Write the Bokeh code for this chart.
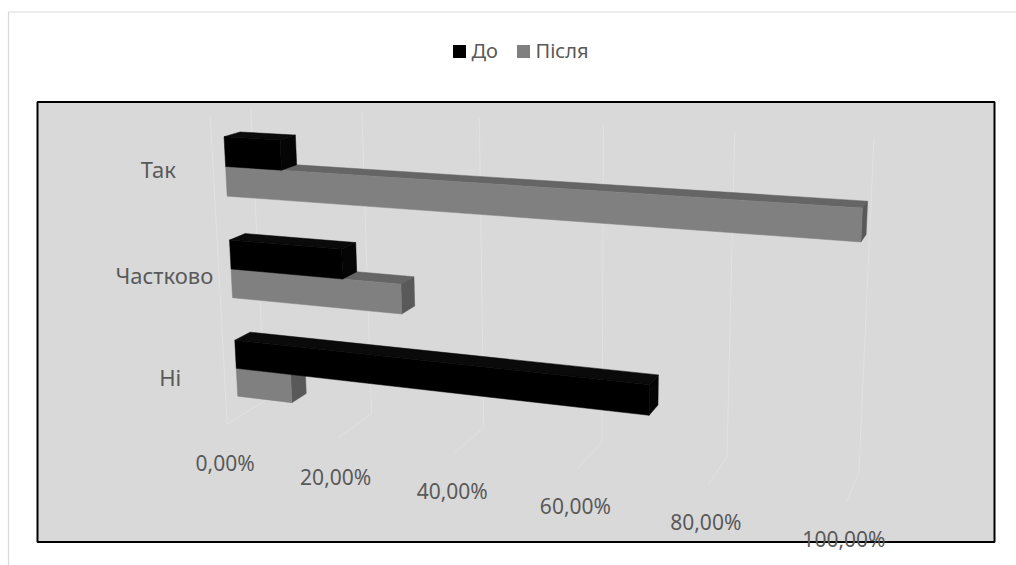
import numpy as np
from bokeh.plotting import figure
from bokeh.models import Range1d
from bokeh.embed import file_html
from bokeh.resources import INLINE
from bokeh.core.properties import value

# ---------------- data ----------------
categories = ["Так", "Частково", "Ні"]          # top to bottom
series_names = ["До", "Після"]
before = [0.10, 0.20, 0.70]
after = [1.00, 0.30, 0.10]
ticks = [0.0, 0.2, 0.4, 0.6, 0.8, 1.0]
tick_labels = ["0,00%", "20,00%", "40,00%", "60,00%", "80,00%", "100,00%"]

# ---------------- styling ----------------
W, H = 1016, 565
FONT = value("Noto Sans")
TXT = "#595959"
face_colors = {
    "До": {"front": "#000000", "top": "#0a0a0a", "end": "#050505"},
    "Після": {"front": "#808080", "top": "#656565", "end": "#595959"},
}
GRID = "#e1e1e1"

# ---------------- 3D projection (pinhole camera fitted to the chart frame) ----
# world: X = value (0..1), Y = category axis (0..3, bottom to top), Z = depth (0 front .. 1 back)
n_cat = len(categories)
gap_width = 1.5            # 150 %
gap_depth = 1.5            # 150 %
bar_t = 1.0 / (2 + gap_width)
z0 = (gap_depth / (1 + gap_depth)) / 2
z1 = 1 - z0

frame_world = [
    (0, 0, 0), (0.2, 0, 0), (0.4, 0, 0), (0.8, 0, 0),
    (0.2, 0, 1), (0.4, 0, 1), (0.8, 0, 1), (1, 0, 1),
    (0, 3, 1), (0.2, 3, 1), (0.4, 3, 1), (0.6, 3, 1), (0.8, 3, 1), (1, 3, 1),
    (0, 3, 0),
    (0, 2.7857, z0), (0, 2.7857, z1), (0, 2.2143, z0),
    (0, 1.7857, z0), (0, 1.7857, z1), (0, 1.2143, z0),
    (0, 0.7857, z0), (0, 0.7857, z1), (0, 0.2143, z0),
    (1, 2.5, z0), (1, 2.2143, z0), (1, 2.5, z1),
]
frame_screen = [
    (227, 422), (337, 438), (453, 453), (707, 487),
    (370, 413), (482, 428), (727, 457), (860, 467),
    (250, 107), (362, 112), (478, 117), (603, 123), (735, 130), (873, 138),
    (210, 115),
    (223.3, 135), (239, 131.7), (226.7, 195.7),
    (230, 240), (245, 234), (232, 297.3),
    (235, 340), (250, 333), (237.3, 395),
    (861.7, 208), (860, 241.7), (867, 202.7),
]


def fit_camera(world, screen):
    w = np.asarray(world, float)
    q = np.asarray(screen, float)
    mu = q.mean(0)
    s = np.sqrt(2) / np.mean(np.linalg.norm(q - mu, axis=1))
    T = np.array([[s, 0, -s * mu[0]], [0, s, -s * mu[1]], [0, 0, 1]])
    qn = (q - mu) * s
    rows = []
    for (X, Y, Z), (u, v) in zip(w, qn):
        rows.append([X, Y, Z, 1, 0, 0, 0, 0, -u * X, -u * Y, -u * Z, -u])
        rows.append([0, 0, 0, 0, X, Y, Z, 1, -v * X, -v * Y, -v * Z, -v])
    _, _, vt = np.linalg.svd(np.array(rows))
    return np.linalg.inv(T) @ vt[-1].reshape(3, 4)


P = fit_camera(frame_world, frame_screen)


def proj(X, Y, Z):
    r = P @ np.array([X, Y, Z, 1.0])
    return r[0] / r[2], r[1] / r[2]


def poly(pts):
    xy = [proj(*p) for p in pts]
    return [a for a, b in xy], [b for a, b in xy]


# ---------------- figure ----------------
p = figure(width=W, height=H, x_range=Range1d(0, W), y_range=Range1d(H, 0),
           output_backend="svg", toolbar_location=None,
           x_axis_type=None, y_axis_type=None, min_border=0,
           background_fill_color="white", border_fill_color="white")
p.outline_line_color = None
p.grid.visible = False

# chart area frame (partly outside the window)
p.segment(x0=[8, 8], y0=[11.5, 11.5], x1=[W + 5, 8], y1=[11.5, H + 5],
          line_color="#d9d9d9", line_width=1.2)
# plot area
p.quad(left=[37], right=[994], top=[101.5], bottom=[541.5],
       fill_color="#d9d9d9", line_color="#000000", line_width=2)

# gridlines: floor + back wall, and the front edge at 0
gx, gy = [], []
for t in ticks:
    xs, ys = poly([(t, 0, 0), (t, 0, 1), (t, n_cat, 1)])
    gx.append(xs)
    gy.append(ys)
xs, ys = poly([(0, 0, 0), (0, n_cat, 0)])
gx.append(xs)
gy.append(ys)
p.multi_line(gx, gy, line_color=GRID, line_width=1)

# bars
for i, cat in enumerate(categories):
    j = n_cat - 1 - i
    base = j + gap_width / (2 + gap_width) / 2
    for name, vals, y_lo in (("Після", after, base), ("До", before, base + bar_t)):
        v = vals[i]
        y_hi = y_lo + bar_t
        col = face_colors[name]
        fx, fy = poly([(0, y_lo, z0), (v, y_lo, z0), (v, y_hi, z0), (0, y_hi, z0)])
        tx, ty = poly([(0, y_hi, z0), (v, y_hi, z0), (v, y_hi, z1), (0, y_hi, z1)])
        ex, ey = poly([(v, y_lo, z0), (v, y_lo, z1), (v, y_hi, z1), (v, y_hi, z0)])
        p.patches([tx, ex, fx], [ty, ey, fy],
                  fill_color=[col["top"], col["end"], col["front"]],
                  line_color=[col["top"], col["end"], col["front"]], line_width=0.5)

# category labels
cx, cy = [], []
for i, cat in enumerate(categories):
    j = n_cat - 1 - i
    x, y = proj(0, j + 0.5, -0.4)
    cx.append(x - 38)
    cy.append(y - 7)
p.text(x=cx, y=cy, text=categories, text_font=FONT, text_font_size="22px",
       text_color=TXT, text_align="center", text_baseline="middle")

# value-axis labels
lx, ly = [], []
for t in ticks:
    x, y = proj(t, 0, 0)
    lx.append(x - 2)
    ly.append(y + 39 - 3 * t)
p.text(x=lx, y=ly, text=tick_labels, text_font=FONT, text_font_size="21px",
       text_color=TXT, text_align="center", text_baseline="middle")

# legend
leg_x = [459, 523]
p.scatter(x=leg_x, y=[51, 51], marker="square", size=13,
          fill_color=[face_colors[s]["front"] for s in series_names], line_color=None)
p.text(x=[x + 12 for x in leg_x], y=[50, 50], text=series_names, text_font=FONT,
       text_font_size="20px", text_color=TXT, text_align="left", text_baseline="middle")

open("out.html", "w").write(file_html(p, INLINE))
